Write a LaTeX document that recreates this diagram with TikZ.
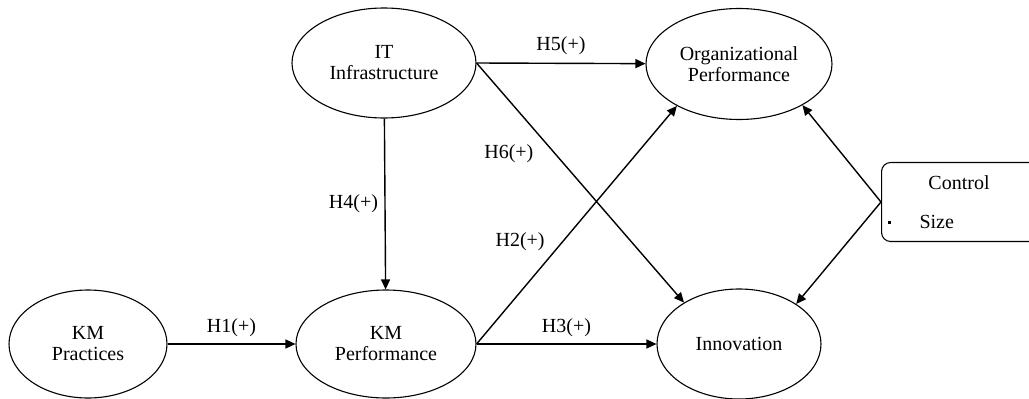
\documentclass[tikz,border=0pt]{standalone}
\usepackage{fontspec}
\setmainfont{Liberation Serif}
\usetikzlibrary{shapes.geometric,arrows.meta}

\begin{document}
\begin{tikzpicture}[x=1pt,y=-1pt,
        construct/.style={draw,ellipse,line width=1.1pt,inner sep=0pt,align=center,font=\fontsize{20}{21}\selectfont},
        hpath/.style={draw,line width=1.4pt,-{Triangle[length=10pt,width=9pt]}},
        hyp/.style={font=\fontsize{20}{21}\selectfont}]
            \clip (0,0) rectangle (1029,399);

            % constructs
            \node[construct,minimum width=158,minimum height=108] (kmprac) at (88,344) {KM\\Practices};
            \node[construct,minimum width=180,minimum height=108] (kmperf) at (386,344) {KM\\Performance};
            \node[construct,minimum width=184,minimum height=110] (itinfra) at (384,63) {IT\\Infrastructure};
            \node[construct,minimum width=186,minimum height=111] (orgperf) at (739,64) {Organizational\\Performance};
            \node[construct,minimum width=164,minimum height=110] (innov) at (739,344) {Innovation};

            % control box
            \node[draw,line width=1.1pt,rounded corners=9pt,minimum width=170,minimum height=79,anchor=west] (ctrl) at (881,202) {};
            \node[hyp] (ctrltitle) at (959,183) {Control};
            \node[hyp,anchor=west] (ctrlsize) at (916,222) {Size};
            \fill (887.5,220.5) rectangle +(3,3);

            % hypotheses
            \draw[hpath] (kmprac) -- node[hyp,above=3pt] {H1(+)} (kmperf);
            \draw[hpath] (itinfra) -- node[hyp,left=3pt] {H4(+)} (kmperf);
            \draw[hpath] (itinfra.east) -- node[hyp,above=5pt] {H5(+)} (orgperf);
            \draw[hpath] (itinfra.east) -- node[hyp,pos=0.38,left=18pt] {H6(+)} (innov.143);
            \draw[hpath] (kmperf.east) -- node[hyp,pos=0.43,left=14pt] {H2(+)} (orgperf.214);
            \draw[hpath] (kmperf.east) -- node[hyp,above=3pt] {H3(+)} (innov);
            \draw[hpath] (ctrl.west) -- (orgperf.327);
            \draw[hpath] (ctrl.west) -- (innov.35);
\end{tikzpicture}
\end{document}
